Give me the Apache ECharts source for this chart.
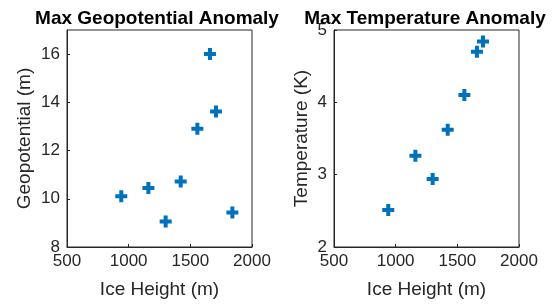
<!DOCTYPE html>
<html>
<head>
<meta charset="utf-8">
<script src="https://cdn.jsdelivr.net/npm/echarts@6/dist/echarts.min.js"></script>
<style>
html, body { margin: 0; padding: 0; background: #fff; }
#chart { width: 554px; height: 304px; }
</style>
</head>
<body>
<div id="chart"></div>
<script>
// ice height (m) for each run
var iceHeight = [940, 1160, 1300, 1422, 1557, 1659, 1708, 1841];
// max geopotential anomaly (m)
var geoAnom = [10.1, 10.45, 9.06, 10.72, 12.9, 16.0, 13.62, 9.43];
// max temperature anomaly (K), last run not shown
var tempAnom = [2.51, 3.26, 2.94, 3.62, 4.1, 4.7, 4.84];

var xTicks = [500, 1000, 1500, 2000];
var geoTicks = [8, 10, 12, 14, 16];
var tempTicks = [2, 3, 4, 5];

var font = 'Liberation Sans, Helvetica, Arial, sans-serif';
var axisColor = '#262626';
var plus = 'path://M4,0 L8,0 L8,4 L12,4 L12,8 L8,8 L8,12 L4,12 L4,8 L0,8 L0,4 L4,4 Z';

function pairs(xs, ys) {
    var out = [];
    for (var i = 0; i < ys.length; i++) {
        out.push([xs[i], ys[i]]);
    }
    return out;
}

function xAxisOpt(idx) {
    return {
        gridIndex: idx,
        type: 'value',
        min: xTicks[0], max: xTicks[xTicks.length - 1], interval: 500,
        name: 'Ice Height (m)',
        nameLocation: 'middle',
        nameGap: 33,
        nameTextStyle: { fontFamily: font, fontSize: 19, color: axisColor },
        axisLine: { show: true, lineStyle: { color: axisColor, width: 1 } },
        axisTick: { show: true, inside: true, length: 3, lineStyle: { color: axisColor } },
        axisLabel: { fontFamily: font, fontSize: 17, color: axisColor, margin: 6,
            formatter: function (v) { return String(v); } },
        splitLine: { show: false }
    };
}

function yAxisOpt(idx, ticks, name, gap) {
    return {
        gridIndex: idx,
        type: 'value',
        min: ticks[0], max: idx === 0 ? 17 : ticks[ticks.length - 1],
        interval: ticks[1] - ticks[0],
        name: name,
        nameLocation: 'middle',
        nameRotate: 90,
        nameGap: gap,
        nameTextStyle: { fontFamily: font, fontSize: 19, color: axisColor },
        axisLine: { show: true, lineStyle: { color: axisColor, width: 1 } },
        axisTick: { show: true, inside: true, length: 3, lineStyle: { color: axisColor } },
        axisLabel: { fontFamily: font, fontSize: 17, color: axisColor, margin: 7,
            showMaxLabel: idx === 0 ? false : true },
        splitLine: { show: false }
    };
}

var chart = echarts.init(document.getElementById('chart'));
var option = {
    animation: false,
    backgroundColor: '#fff',
    title: [
        { text: 'Max Geopotential Anomaly', left: 152, top: 4, textAlign: 'center',
          textStyle: { fontFamily: font, fontSize: 19, fontWeight: 'bold', color: '#000' } },
        { text: 'Max Temperature Anomaly', left: 420, top: 4, textAlign: 'center',
          textStyle: { fontFamily: font, fontSize: 19, fontWeight: 'bold', color: '#000' } }
    ],
    grid: [
        { left: 67, right: 302, top: 30, bottom: 55, show: true, borderColor: axisColor, borderWidth: 1 },
        { left: 334, right: 35, top: 30, bottom: 55, show: true, borderColor: axisColor, borderWidth: 1 }
    ],
    xAxis: [xAxisOpt(0), xAxisOpt(1)],
    yAxis: [
        yAxisOpt(0, geoTicks, 'Geopotential (m)', 33),
        yAxisOpt(1, tempTicks, 'Temperature (K)', 23)
    ],
    series: [
        { type: 'scatter', xAxisIndex: 0, yAxisIndex: 0, data: pairs(iceHeight, geoAnom),
          symbol: plus, symbolSize: 12, itemStyle: { color: '#0072BD', opacity: 1 } },
        { type: 'scatter', xAxisIndex: 1, yAxisIndex: 1, data: pairs(iceHeight, tempAnom),
          symbol: plus, symbolSize: 12, itemStyle: { color: '#0072BD', opacity: 1 } }
    ]
};
chart.setOption(option);
</script>
</body>
</html>
